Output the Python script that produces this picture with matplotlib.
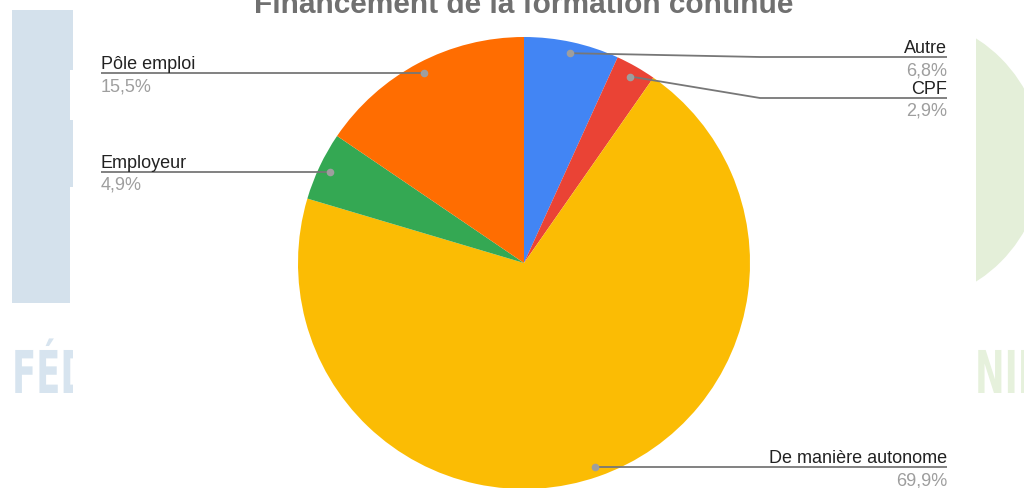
import numpy as np
import matplotlib
matplotlib.use("Agg")
import matplotlib.pyplot as plt
from matplotlib.patches import Rectangle, Circle, PathPatch
from matplotlib.textpath import TextPath
from matplotlib.font_manager import FontProperties
from matplotlib.transforms import Affine2D

title = "Financement de la formation continue"
labels = ["Autre", "CPF", "De manière autonome", "Employeur", "Pôle emploi"]
values = [6.8, 2.9, 69.9, 4.9, 15.5]
pct_labels = ["6,8%", "2,9%", "69,9%", "4,9%", "15,5%"]
colors = ["#4285F4", "#EA4335", "#FBBC04", "#34A853", "#FF6D01"]

W, H = 1024, 488
def Y(py):
    return H - py

plt.rcParams['font.family'] = ['Liberation Sans', 'DejaVu Sans']
fig = plt.figure(figsize=(W / 100, H / 100), dpi=100)
ax = fig.add_axes([0, 0, 1, 1])

# background watermark (outside chart area)
blue, blue_t = "#D4E1EC", "#D7E4EF"
green, green_t = "#E4EFD9", "#E6F1DC"
ax.add_patch(Rectangle((12, Y(303)), 58, 293, color=blue, zorder=0, lw=0))
ax.add_patch(Rectangle((69, Y(70)), 4, 60, color=blue, zorder=0, lw=0))
ax.add_patch(Rectangle((69, Y(187)), 4, 67, color=blue, zorder=0, lw=0))
clip_r = Rectangle((976, 0), 60, H, transform=ax.transData, visible=False)
ax.add_patch(clip_r)
clip_l = Rectangle((0, 0), 73, H, transform=ax.transData, visible=False)
ax.add_patch(clip_l)
circ = Circle((899, Y(160)), 144, color=green, zorder=0, lw=0)
ax.add_patch(circ)
circ.set_clip_path(clip_r)

fp = FontProperties(family="DejaVu Sans", weight="bold")
def wm_text(s, x, base_py, col, clip):
    tp = TextPath((0, 0), s, size=59, prop=fp)
    tr = Affine2D().scale(0.6, 1.0).translate(x, Y(base_py)) + ax.transData
    pp = PathPatch(tp, transform=tr, color=col, lw=0, zorder=0)
    ax.add_patch(pp)
    pp.set_clip_path(clip)

wm_text("FÉD", 12, 393, blue_t, clip_l)
wm_text("NIE", 975, 393, green_t, clip_r)

# pie
cx, cy, R = 524, 263, 226
wedges, _ = ax.pie(values, colors=colors, startangle=90, counterclock=False,
                   center=(cx, Y(cy)), radius=R, wedgeprops=dict(linewidth=0))
for w in wedges:
    w.set_zorder(2)

# dots at mid angles
total = sum(values)
cum = np.cumsum([0] + values[:-1])
dots = []
for c, v in zip(cum, values):
    ang = np.deg2rad((c + v / 2) / total * 360)
    dots.append((cx + 0.95 * R * np.sin(ang), cy - 0.95 * R * np.cos(ang)))

# label layout: (line_y, text_x, side, elbow)
layout = {
    "Autre": (57, 947, "right", (760, 57)),
    "CPF": (98, 947, "right", (760, 98)),
    "De manière autonome": (467, 947, "right", None),
    "Employeur": (172, 101, "left", None),
    "Pôle emploi": (73, 101, "left", None),
}
lc = "#777777"
for lab, pct, (dx, dy) in zip(labels, pct_labels, dots):
    ly, tx, side, elbow = layout[lab]
    if elbow is None:
        xs = [dx, tx]
        ys = [ly, ly]
        dy_ = ly
    else:
        xs = [dx, elbow[0], tx]
        ys = [dy, elbow[1], ly]
        dy_ = dy
    ax.plot(xs, [Y(v) for v in ys], color=lc, lw=1.3, zorder=3, solid_capstyle="butt")
    ax.plot([dx], [Y(dy_)], "o", color="#9E9E9E", ms=5.5, mec="none", zorder=4)
    ax.text(tx, Y(ly - 4), lab, fontsize=13, color="#222222", ha=side, va="baseline", zorder=5)
    ax.text(tx, Y(ly + 18), pct, fontsize=13, color="#9E9E9E", ha=side, va="baseline", zorder=5)

ax.text(524, Y(13), title, fontsize=21.5, fontweight="bold", color="#707070",
        ha="center", va="baseline", zorder=5)

ax.set_xlim(0, W)
ax.set_ylim(0, H)
ax.set_aspect("auto")
ax.axis("off")
fig.savefig("out.png", dpi=100)
